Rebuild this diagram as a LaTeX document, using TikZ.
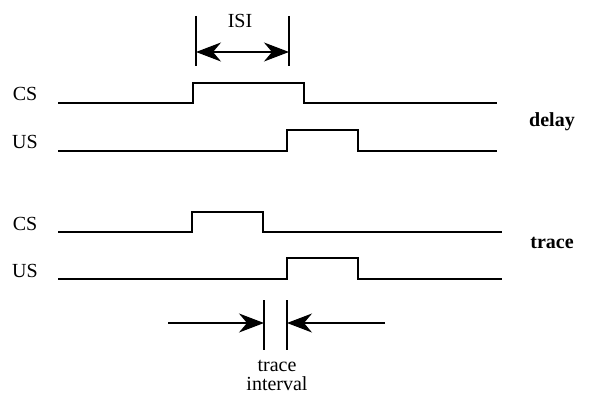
\documentclass[tikz,border=0pt]{standalone}
\usepackage{fontspec}
\setmainfont{Liberation Serif}
\usetikzlibrary{arrows.meta}
\begin{document}
\begin{tikzpicture}[x=1pt,y=-1pt,
  wave/.style={line width=1.8pt, line join=miter},
  tick/.style={line width=1.6pt},
  head/.tip={Stealth[length=25pt,width=19pt,inset=8pt]},
  dimarrow/.style={line width=1.3pt, -head},
  lbl/.style={font=\fontsize{20}{21}\selectfont, inner sep=0pt, anchor=base},
  side/.style={font=\bfseries\fontsize{20}{21}\selectfont, inner sep=0pt, anchor=base}]
\useasboundingbox (0,0) rectangle (595,393);
% labels
\node[lbl] (cs1) at (25,101) {CS};
\node[lbl] (us1) at (25,149) {US};
\node[lbl] (cs2) at (25,230) {CS};
\node[lbl] (us2) at (25,277) {US};
\node[side] (delay) at (552,127) {delay};
\node[side] (trace) at (552,248) {trace};
% delay waveforms
\draw[wave] (58,103) -- (193,103) -- (193,83) -- (304,83) -- (304,103) -- (497,103);
\draw[wave] (58,151) -- (287,151) -- (287,130) -- (358,130) -- (358,151) -- (497,151);
% trace waveforms
\draw[wave] (58,232) -- (192,232) -- (192,212) -- (263,212) -- (263,232) -- (502,232);
\draw[wave] (58,279) -- (287,279) -- (287,258) -- (358,258) -- (358,279) -- (502,279);
% ISI
\coordinate (isiL) at (196,52);
\coordinate (isiR) at (289,52);
\draw[tick] (196,16) -- (196,66);
\draw[tick] (289,16) -- (289,66);
\draw[line width=1.3pt, head-head] (isiL) -- (isiR);
\node[lbl] (isi) at (240,28) {ISI};
% trace interval
\coordinate (tiL) at (264,323);
\coordinate (tiR) at (287,323);
\coordinate (tiLs) at (168,323);
\coordinate (tiRs) at (385,323);
\draw[tick] (264,300) -- (264,350);
\draw[tick] (287,300) -- (287,350);
\draw[dimarrow] (tiLs) -- (tiL);
\draw[dimarrow] (tiRs) -- (tiR);
\node[lbl] (ti1) at (277,371) {trace};
\node[lbl] (ti2) at (277,390) {interval};
\end{tikzpicture}
\end{document}
